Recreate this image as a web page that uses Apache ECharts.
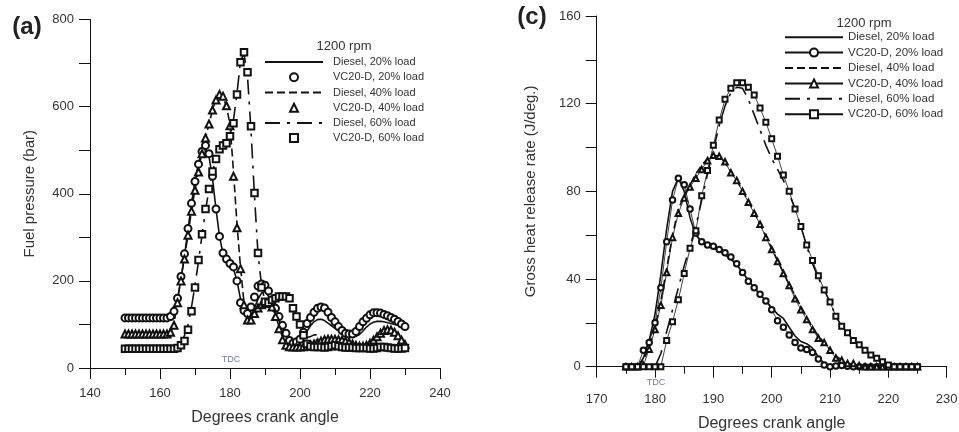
<!DOCTYPE html>
<html><head><meta charset="utf-8">
<script src="https://cdn.jsdelivr.net/npm/echarts@6/dist/echarts.min.js"></script>
<style>
html,body{margin:0;padding:0;background:#fff;width:959px;height:432px;overflow:hidden}
#a{position:absolute;left:0;top:0;width:480px;height:432px}
#c{position:absolute;left:480px;top:0;width:479px;height:432px}
</style></head><body><div id="a"></div><div id="c"></div>
<script>
// ---------- Panel (a): fuel pressure ----------
const anglesA = [150,151,152,153,154,155,156,157,158,159,160,161,162,163,164,165,166,167,168,169,170,171,172,173,174,175,176,177,178,179,180,181,182,183,184,185,186,187,188,189,190,191,192,193,194,195,196,197,198,199,200,201,202,203,204,205,206,207,208,209,210,211,212,213,214,215,216,217,218,219,220,221,222,223,224,225,226,227,228,229,230];
const dieselA20 = [115,115,115,115,115,115,115,115,115,115,115,115,115,
 117,128,155,205,258,318,378,430,470,498,
 505,485,435,365,302,262,246,238,228,200,
 158,128,118,122,138,158,172,175,165,148,
 128,108,92,78,68,60,57,60,70,84,
 97,106,111,112,109,103,97,91,86,81,
 77,74,72,73,77,85,94,101,105,107,
 107,106,104,102,100,98,96,94];
const vcA20 = [115,115,115,115,115,115,115,115,115,115,115,115,115,
 118,130,160,210,262,320,378,428,468,497,
 511,492,440,365,302,264,250,240,232,200,
 150,132,125,140,163,188,193,190,177,156,
 137,118,98,80,63,57,60,66,82,102,
 116,128,137,140,138,128,116,106,95,86,
 80,78,78,84,95,106,114,122,127,127,
 126,123,120,116,112,107,101,95];
const dieselA40 = [78,78,78,78,78,78,78,78,78,78,78,78,78,
 82,100,158,205,255,305,362,410,455,495,
 528,560,592,618,630,622,600,560,450,330,
 232,150,115,112,120,132,142,148,150,143,
 122,95,70,55,50,48,48,49,52,56,
 60,63,64,64,63,62,61,60,60,59,
 58,56,54,52,50,49,50,54,60,67,
 74,80,83,83,79,72,63,55];
const vcA40 = [78,78,78,78,78,78,78,78,78,78,78,78,78,
 82,98,150,200,250,305,360,408,450,492,
 528,560,592,615,628,624,602,556,440,322,
 228,145,110,110,125,138,145,148,152,140,
 118,90,65,52,49,48,48,48,49,50,
 52,55,58,62,65,66,66,66,65,64,
 62,59,55,52,50,50,52,57,64,72,
 80,86,88,87,82,74,64,54];
const dieselA60 = [45,45,45,45,45,45,45,45,45,45,45,45,45,45,45,
 47,55,75,100,140,190,245,305,362,410,
 450,482,502,512,520,535,570,630,705,722,
 670,545,395,262,190,152,148,155,160,162,
 163,162,158,140,115,95,78,70,72,76,
 76,72,65,58,54,52,51,50,50,49,
 48,47,46,46,46,46,46,46,47,47,
 48,48,47,46,46,46];
const vcA60 = [44,44,44,44,44,44,44,44,44,44,44,44,44,44,44,
 46,52,62,88,130,185,248,307,365,411,
 451,480,502,511,516,532,562,628,702,725,
 679,555,402,264,185,152,150,156,160,164,
 164,164,160,137,118,100,75,55,50,48,
 48,48,47,48,50,52,50,48,47,47,
 47,46,46,46,46,45,45,46,48,48,
 47,46,45,45,45,46];

// ---------- Panel (c): gross heat release rate ----------
const anglesC = [175,176,177,178,179,180,181,182,183,184,185,186,187,188,189,190,191,192,193,194,195,196,197,198,199,200,201,202,203,204,205,206,207,208,209,210,211,212,213,214,215,216,217,218,219,220,221,222,223,224,225];
const dieselC20 = [0,0,0,4,12,24,42,63,80,86,
 80,68,60,57,55,54,53,51,49,46.5,
 43,39.5,36,33,30,27,24,22,18,14,
 11.5,10.5,8.5,4.5,1.5,0.3,0.8,1,0.5,0,
 0,0,0,0,0,0,0,0,0,0,0];
const vcC20 = [0,0,0,7.5,11,20,36,57,76,86,
 83,72,61,57,55.5,55,53.5,52,50,47,
 43,39,36,33,30,26,21,18,14.5,11,
 8.5,7.8,6.5,3.5,0.8,0,0.3,0.5,0.2,0,
 0,0,0,0,0,0,0,0,0,0,0];
const dieselC40 = [0,0,0,3,9,18,30,45,60,72,
 78,83,88,92,95,96.5,96,93,89,85,
 80.5,75.5,70.5,65,59.5,54,48.5,43,37.5,32.5,
 27.5,22.5,18,14,11,8,5,3,1.5,0.8,
 0.3,0,0,0,0,0,0,0,0,0,0];
const vcC40 = [0,0,0,0.5,8,17,28,43,59,70,
 77,82,86,90,94,96.5,96,93.5,88.5,85,
 80,75,70,65,59,53.5,48,42.5,37,31,
 26,21.5,17,13,11,7.5,4,3,1.5,1.5,
 0.5,0,0,0,0,0,0,0,0,0,0];
const dieselC60 = [0,0,0,0,0,0,6,16,26,36,
 46,55,64,76,88,99,110,119,125,127.5,
 127,122,115,108,101,95,90,85,79,72,
 64,55,47,40.5,35,29.5,23,18.5,15.5,12,
 10,7.5,5,3.5,2,0.8,0,0,0,0,0];
const vcC60 = [0,0,0,0,0,0,0,12,20.5,30.5,
 42.5,54,62,78,89.5,101,112.5,122,127,129.5,
 129.5,127.5,124,118,111.5,104,96,87.5,80,72,
 64,55.5,48.5,41.5,35,29.5,23,18.5,15.5,12,
 10,7.5,5.3,3.8,2.3,0.8,0,0,0,0,0];

const seriesNames = ['Diesel, 20% load','VC20-D, 20% load','Diesel, 40% load','VC20-D, 40% load','Diesel, 60% load','VC20-D, 60% load'];
const xTicksA = [140, 240, 20];
const yTicksA = [0, 800, 200];
const xTicksC = [170, 230, 10];
const yTicksC = [0, 160, 40];

const FONT = '"Liberation Sans", Arial, Helvetica, sans-serif';
const INK = '#111';
const TXT = '#333';
const DASH = [8, 4];
const DASHDOT = [15, 7, 3, 7];

function pairs(xs, ys){ return xs.map((x,i)=>[x, ys[i]]); }

function axisX(t, labelMargin, nameGap){
  return {type:'value', min:t[0], max:t[1], interval:t[2],
    name:'Degrees crank angle', nameLocation:'middle', nameGap:nameGap,
    nameTextStyle:{fontFamily:FONT, fontSize:16, color:TXT},
    axisLine:{onZero:false, lineStyle:{color:INK, width:1}},
    axisTick:{show:true, inside:false, length:11, lineStyle:{color:INK}},
    minorTick:{show:true, splitNumber:2, length:7, lineStyle:{color:INK}},
    axisLabel:{fontFamily:FONT, fontSize:13, color:TXT, margin:labelMargin},
    splitLine:{show:false}, minorSplitLine:{show:false}};
}
function axisY(t, name, nameGap){
  return {type:'value', min:t[0], max:t[1], interval:t[2],
    name:name, nameLocation:'middle', nameGap:nameGap,
    nameTextStyle:{fontFamily:FONT, fontSize:15, color:TXT},
    axisLine:{show:true, onZero:false, lineStyle:{color:INK, width:1}},
    axisTick:{show:true, inside:false, length:11, lineStyle:{color:INK}},
    minorTick:{show:true, splitNumber:2, length:11, lineStyle:{color:INK}},
    axisLabel:{fontFamily:FONT, fontSize:13, color:TXT, margin:16},
    splitLine:{show:false}, minorSplitLine:{show:false}};
}
function dieselSeries(name, xs, ys, dash){
  return {type:'line', name:name, data:pairs(xs, ys), symbol:'none', z:2,
    itemStyle:{color:INK},
    lineStyle:{color:INK, width:1.6, type:dash}, animation:false};
}
function vcSeries(name, xs, ys, sym, size, lineW){
  return {type:'line', name:name, data:pairs(xs, ys), symbol:sym, symbolSize:size, z:3,
    itemStyle:{color:INK, borderWidth:1},
    lineStyle:{color:INK, width:lineW, opacity: lineW>0 ? 1 : 0}, animation:false};
}
function legendData(markersOnly){
  return seriesNames.map((n,i)=> i%2===0
    ? {name:n, itemStyle:{opacity:0}}
    : (markersOnly ? {name:n, lineStyle:{opacity:0}} : {name:n}));
}
function txt(x, y, s, size, opts){
  return Object.assign({type:'text', x:x, y:y, silent:true,
    style:Object.assign({text:s, fontFamily:FONT, fontSize:size, fill:TXT, align:'center', verticalAlign:'middle'}, opts||{})});
}

const chartA = echarts.init(document.getElementById('a'), null, {renderer:'canvas'});
chartA.setOption({
  animation:false, backgroundColor:'#fff',
  grid:{left:90, top:19.5, width:350, height:348.5, containLabel:false, outerBoundsMode:'none'},
  xAxis: axisX(xTicksA, 19, 42),
  yAxis: axisY(yTicksA, 'Fuel pressure (bar)', 53),
  legend:{show:true, orient:'vertical', left:264, top:54.5, padding:0, itemGap:0,
    itemWidth:58, itemHeight:10, selectedMode:false, align:'left',
    textStyle:{fontFamily:FONT, fontSize:11, color:TXT, lineHeight:15.2, padding:[0,0,0,5]},
    data: legendData(true)},
  graphic:[
    txt(27, 27, '(a)', 24, {fontWeight:'bold', fill:'#222'}),
    txt(344, 46, '1200 rpm', 13),
    txt(231, 360, 'TDC', 9, {fill:'#6b7ea6'})
  ],
  series:[
    dieselSeries(seriesNames[0], anglesA, dieselA20, 'solid'),
    vcSeries(seriesNames[1], anglesA, vcA20, 'emptyCircle', 7, 0),
    dieselSeries(seriesNames[2], anglesA, dieselA40, DASH),
    vcSeries(seriesNames[3], anglesA, vcA40, 'emptyTriangle', 7, 0),
    dieselSeries(seriesNames[4], anglesA, dieselA60, DASHDOT),
    vcSeries(seriesNames[5], anglesA, vcA60, 'emptyRect', 6.5, 0)
  ]
});

const chartC = echarts.init(document.getElementById('c'), null, {renderer:'canvas'});
chartC.setOption({
  animation:false, backgroundColor:'#fff',
  grid:{left:116.7, top:16, width:350, height:350.7, containLabel:false, outerBoundsMode:'none'},
  xAxis: axisX(xTicksC, 26, 49),
  yAxis: axisY(yTicksC, 'Gross heat release rate (J/deg.)', 58),
  legend:{show:true, orient:'vertical', left:304, top:29.5, padding:0, itemGap:0,
    itemWidth:58, itemHeight:10, selectedMode:false, align:'left',
    textStyle:{fontFamily:FONT, fontSize:11.5, color:TXT, lineHeight:15.4},
    data: legendData(false)},
  graphic:[
    txt(52, 17, '(c)', 24, {fontWeight:'bold', fill:'#222'}),
    txt(384, 23, '1200 rpm', 13),
    txt(176, 383, 'TDC', 9, {fill:'#6b7ea6'})
  ],
  series:[
    dieselSeries(seriesNames[0], anglesC, dieselC20, 'solid'),
    vcSeries(seriesNames[1], anglesC, vcC20, 'emptyCircle', 5.5, 0.8),
    dieselSeries(seriesNames[2], anglesC, dieselC40, DASH),
    vcSeries(seriesNames[3], anglesC, vcC40, 'emptyTriangle', 5.5, 0.8),
    dieselSeries(seriesNames[4], anglesC, dieselC60, DASHDOT),
    vcSeries(seriesNames[5], anglesC, vcC60, 'emptyRect', 5, 0.8)
  ]
});
</script></body></html>
